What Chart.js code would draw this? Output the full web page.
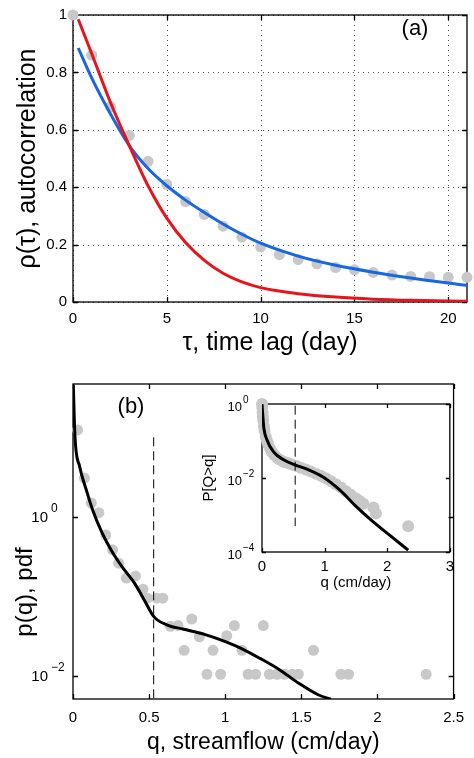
<!DOCTYPE html>
<html lang="en">
<head>
<meta charset="UTF-8">
<title>Autocorrelation and streamflow pdf</title>
<script src="https://cdn.jsdelivr.net/npm/chart.js"></script>
<style>
  html, body { margin: 0; padding: 0; background: #fff; }
  body { width: 474px; height: 758px; position: relative; overflow: hidden; }
  canvas { position: absolute; }
  #acfChart { left: 0; top: 0; }
  #pdfChart { left: 0; top: 360px; }
  #ccdfChart { left: 195px; top: 390px; }
</style>
</head>
<body>
<canvas id="acfChart" width="474" height="360"></canvas>
<canvas id="pdfChart" width="474" height="398"></canvas>
<canvas id="ccdfChart" width="265" height="205"></canvas>
<script>
// (a) autocorrelation
const lagDays = [0, 1, 2, 3, 4, 5, 6, 7, 8, 9, 10, 11, 12, 13, 14, 15, 16, 17, 18, 19, 20, 21];
const acfObserved = [1.00, 0.86, 0.68, 0.58, 0.49, 0.41, 0.35, 0.305, 0.264, 0.226, 0.192, 0.165, 0.148, 0.133, 0.12, 0.112, 0.103, 0.094, 0.089, 0.088, 0.086, 0.086];
const redTau = [0.28, 1, 2, 3, 4, 5, 6, 7, 8, 9, 10, 12, 14, 16, 18, 21];
const redRho = [0.985, 0.865, 0.695, 0.545, 0.405, 0.292, 0.207, 0.145, 0.1, 0.07, 0.05, 0.029, 0.017, 0.01, 0.006, 0.003];
const blueTau = [0.28, 1, 2, 3, 4, 5, 6, 7, 8, 9, 10, 12, 14, 16, 18, 21];
const blueRho = [0.885, 0.78, 0.655, 0.545, 0.465, 0.405, 0.355, 0.312, 0.272, 0.236, 0.205, 0.16, 0.128, 0.104, 0.084, 0.058];
const acfXTicks = [0, 5, 10, 15, 20];
const acfYTicks = [0, 0.2, 0.4, 0.6, 0.8, 1];

// (b) streamflow pdf
const pdfQ = [0.03, 0.075, 0.12, 0.17, 0.215, 0.26, 0.30, 0.35, 0.41, 0.46, 0.49, 0.55, 0.59, 0.64, 0.69, 0.73, 0.78, 0.83, 0.88, 0.92, 0.97, 1.01, 1.06, 1.11, 1.15, 1.20, 1.25, 1.29, 1.34, 1.39, 1.44, 1.48, 1.58, 1.76, 1.81, 2.32];
const pdfObserved = [12.4, 3.07, 1.49, 1.13, 0.59, 0.385, 0.262, 0.17, 0.18, 0.123, 0.095, 0.095, 0.095, 0.042, 0.043, 0.021, 0.052, 0.031, 0.0105, 0.021, 0.0105, 0.032, 0.043, 0.021, 0.0105, 0.0105, 0.043, 0.0105, 0.0105, 0.0105, 0.0105, 0.0105, 0.021, 0.0105, 0.0105, 0.0105];
const pdfFitQ = [0.002, 0.013, 0.044, 0.087, 0.129, 0.192, 0.256, 0.319, 0.404, 0.467, 0.531, 0.615, 0.721, 0.869, 0.975, 1.10, 1.229, 1.356, 1.483, 1.61, 1.694];
const pdfFitP = [46, 10.2, 4.27, 2.19, 1.22, 0.624, 0.366, 0.24, 0.147, 0.091, 0.0557, 0.0439, 0.0389, 0.0331, 0.0282, 0.0224, 0.0166, 0.012, 0.0081, 0.0058, 0.0051];
const thresholdQ = 0.53;
const pdfThresholdTop = 10;
const pdfYMin = 0.00513, pdfYMax = 46.8;
const pdfXTicks = [0, 0.5, 1, 1.5, 2, 2.5];
const pdfYExps = [-2, 0];

// (b) inset: exceedance probability
const ccdfQ = [0, 0.005, 0.01, 0.015, 0.02, 0.03, 0.04, 0.06, 0.08, 0.1, 0.13, 0.16, 0.2, 0.25, 0.3, 0.36, 0.42, 0.48, 0.55, 0.62, 0.7, 0.78, 0.86, 0.94, 1.02, 1.1, 1.18, 1.26, 1.34, 1.42, 1.5, 1.56, 1.62, 1.78, 1.82, 2.335];
const ccdfObserved = [1.0, 0.8, 0.6, 0.45, 0.36, 0.25, 0.19, 0.13, 0.1, 0.08, 0.062, 0.05, 0.041, 0.034, 0.03, 0.027, 0.025, 0.023, 0.021, 0.019, 0.017, 0.015, 0.013, 0.0115, 0.0098, 0.0082, 0.0068, 0.0055, 0.0044, 0.0035, 0.0028, 0.0024, 0.002, 0.0016, 0.0011, 0.0005];
const ccdfFitQ = [0, 0.027, 0.08, 0.185, 0.345, 0.53, 0.717, 0.98, 1.245, 1.51, 1.777, 2.043, 2.335];
const ccdfFitP = [1.0, 0.245, 0.107, 0.051, 0.031, 0.0224, 0.0174, 0.0105, 0.0047, 0.00166, 0.00065, 0.00028, 0.000112];
const ccdfThresholdTop = 0.9, ccdfThresholdBottom = 0.0005;
const ccdfXTicks = [0, 1, 2, 3];
const ccdfYExps = [-4, -2, 0];

Chart.defaults.font.family = '"Liberation Sans", Arial, Helvetica, sans-serif';
Chart.defaults.color = '#000';

const GREY = '#c8c8c8';
const FONT = Chart.defaults.font.family;
const pairs = (xs, ys) => xs.map((x, i) => ({ x: x, y: ys[i] }));
const fixTicks = vals => scale => { scale.ticks = vals.map(v => ({ value: v })); };

// matlab-like box with inward ticks (and optional dotted grid)
const frame = {
  id: 'frame',
  beforeDatasetsDraw(chart, args, opts) {
    const { ctx, chartArea: a, scales } = chart;
    const len = opts.tickLen || 5;
    const xs = scales.x.ticks.map(t => Math.round(scales.x.getPixelForValue(t.value)) + 0.5);
    const ys = scales.y.ticks.map(t => Math.round(scales.y.getPixelForValue(t.value)) + 0.5);
    ctx.save();
    if (opts.dotted) {
      ctx.strokeStyle = 'rgba(0,0,0,0.7)';
      ctx.lineWidth = 1;
      ctx.setLineDash([1, 4]);
      ctx.beginPath();
      xs.forEach(x => { ctx.moveTo(x, a.top); ctx.lineTo(x, a.bottom); });
      ys.forEach(y => { ctx.moveTo(a.left, y); ctx.lineTo(a.right, y); });
      ctx.stroke();
      ctx.setLineDash([]);
    }
    ctx.strokeStyle = '#000';
    ctx.lineWidth = 1.3;
    ctx.strokeRect(a.left, a.top, a.right - a.left, a.bottom - a.top);
    ctx.beginPath();
    xs.forEach(x => {
      ctx.moveTo(x, a.bottom); ctx.lineTo(x, a.bottom - len);
      ctx.moveTo(x, a.top); ctx.lineTo(x, a.top + len);
    });
    ys.forEach(y => {
      ctx.moveTo(a.left, y); ctx.lineTo(a.left + len, y);
      ctx.moveTo(a.right, y); ctx.lineTo(a.right - len, y);
    });
    ctx.stroke();
    ctx.restore();
  }
};

// 10^n labels for the log axes
const powerLabels = {
  id: 'powerLabels',
  afterDraw(chart, args, o) {
    if (!o.exps) return;
    const { ctx } = chart;
    const y = chart.scales.y;
    ctx.save();
    ctx.fillStyle = '#000';
    ctx.textBaseline = 'middle';
    o.exps.forEach(e => {
      const py = y.getPixelForValue(Math.pow(10, e));
      ctx.font = o.size + 'px ' + FONT;
      ctx.textAlign = 'right';
      ctx.fillText('10', o.x, py + o.dy);
      ctx.font = o.expSize + 'px ' + FONT;
      ctx.textAlign = 'left';
      ctx.fillText(e === 0 ? '0' : '\u2212' + Math.abs(e), o.x + o.gap, py + o.dy - o.raise);
    });
    ctx.restore();
  }
};

// free text: panel tags and the shifted y title of (b)
const notes = {
  id: 'notes',
  afterDraw(chart, args, o) {
    const ctx = chart.ctx;
    (o.items || []).forEach(n => {
      ctx.save();
      ctx.font = n.size + 'px ' + FONT;
      ctx.fillStyle = '#000';
      ctx.textAlign = 'center';
      ctx.textBaseline = 'middle';
      ctx.translate(n.x, n.y);
      if (n.rotate) ctx.rotate(-Math.PI / 2);
      ctx.fillText(n.text, 0, 0);
      ctx.restore();
    });
  }
};

const baseOptions = {
  responsive: false,
  devicePixelRatio: 1,
  animation: false,
  events: []
};

// (a)
new Chart(document.getElementById('acfChart'), {
  type: 'scatter',
  data: {
    datasets: [
      { data: pairs(redTau, redRho), showLine: true, borderColor: '#e8141c', borderWidth: 3, pointRadius: 0, cubicInterpolationMode: 'monotone' },
      { data: pairs(blueTau, blueRho), showLine: true, borderColor: '#1766e2', borderWidth: 3, pointRadius: 0, cubicInterpolationMode: 'monotone' },
      { data: pairs(lagDays, acfObserved), pointRadius: 5.5, backgroundColor: GREY, borderWidth: 0, clip: false }
    ]
  },
  options: Object.assign({}, baseOptions, {
    layout: { padding: { left: 0, right: 7, top: 10, bottom: 0 } },
    plugins: {
      legend: { display: false },
      tooltip: { enabled: false },
      frame: { tickLen: 5, dotted: true },
      notes: { items: [{ text: '(a)', x: 415, y: 29, size: 22 }] }
    },
    scales: {
      x: {
        type: 'linear', min: 0, max: 21,
        afterBuildTicks: fixTicks(acfXTicks),
        afterFit: s => { s.height = 58; },
        grid: { display: false, drawTicks: false },
        border: { display: false },
        ticks: { padding: 8, font: { size: 15 }, callback: v => String(v) },
        title: { display: true, text: 'τ, time lag (day)', font: { size: 25 }, padding: { top: 0, bottom: 2 } }
      },
      y: {
        type: 'linear', min: 0, max: 1,
        afterBuildTicks: fixTicks(acfYTicks),
        afterFit: s => { s.width = 73; },
        grid: { display: false, drawTicks: false },
        border: { display: false },
        ticks: { padding: 6, font: { size: 15 }, callback: v => String(v) },
        title: { display: true, text: 'ρ(τ), autocorrelation', font: { size: 25 }, padding: { top: 13, bottom: 0 } }
      }
    }
  }),
  plugins: [frame, notes]
});

// (b)
new Chart(document.getElementById('pdfChart'), {
  type: 'scatter',
  data: {
    datasets: [
      { data: pairs(pdfFitQ, pdfFitP), showLine: true, borderColor: '#000', borderWidth: 3, pointRadius: 0, cubicInterpolationMode: 'monotone' },
      { data: [{ x: thresholdQ, y: pdfThresholdTop }, { x: thresholdQ, y: pdfYMin }], showLine: true, borderColor: '#000', borderWidth: 1, borderDash: [9, 5], pointRadius: 0 },
      { data: pairs(pdfQ, pdfObserved), pointRadius: 5.5, backgroundColor: GREY, borderWidth: 0, clip: false }
    ]
  },
  options: Object.assign({}, baseOptions, {
    layout: { padding: { left: 0, right: 7, top: 24, bottom: 0 } },
    plugins: {
      legend: { display: false },
      tooltip: { enabled: false },
      frame: { tickLen: 5 },
      powerLabels: { exps: pdfYExps, x: 48, dy: 1, size: 15, expSize: 12, gap: 3, raise: 9 },
      notes: { items: [
        { text: '(b)', x: 131, y: 47, size: 22 },
        { text: 'p(q), pdf', x: 25, y: 232, size: 24, rotate: true }
      ] }
    },
    scales: {
      x: {
        type: 'linear', min: 0, max: 2.5,
        afterBuildTicks: fixTicks(pdfXTicks),
        afterFit: s => { s.height = 59; },
        grid: { display: false, drawTicks: false },
        border: { display: false },
        ticks: { padding: 10, font: { size: 15 }, callback: v => String(v) },
        title: { display: true, text: 'q, streamflow (cm/day)', font: { size: 23 }, padding: { top: 0, bottom: 2 } }
      },
      y: {
        type: 'logarithmic', min: pdfYMin, max: pdfYMax,
        afterBuildTicks: fixTicks(pdfYExps.map(e => Math.pow(10, e))),
        afterFit: s => { s.width = 73; },
        grid: { display: false, drawTicks: false },
        border: { display: false },
        ticks: { display: false }
      }
    }
  }),
  plugins: [frame, powerLabels, notes]
});

// (b) inset
new Chart(document.getElementById('ccdfChart'), {
  type: 'scatter',
  data: {
    datasets: [
      { data: pairs(ccdfFitQ, ccdfFitP), showLine: true, borderColor: '#000', borderWidth: 3, pointRadius: 0, cubicInterpolationMode: 'monotone' },
      { data: [{ x: thresholdQ, y: ccdfThresholdTop }, { x: thresholdQ, y: ccdfThresholdBottom }], showLine: true, borderColor: '#000', borderWidth: 1, borderDash: [9, 5], pointRadius: 0 },
      { data: pairs(ccdfQ, ccdfObserved), pointRadius: 6, backgroundColor: GREY, borderWidth: 0, clip: false }
    ]
  },
  options: Object.assign({}, baseOptions, {
    layout: { padding: { left: 0, right: 10, top: 14, bottom: 0 } },
    plugins: {
      legend: { display: false },
      tooltip: { enabled: false },
      frame: { tickLen: 4 },
      powerLabels: { exps: ccdfYExps, x: 47, dy: 3, size: 13, expSize: 10, gap: 1, raise: 7 }
    },
    scales: {
      x: {
        type: 'linear', min: 0, max: 3,
        afterBuildTicks: fixTicks(ccdfXTicks),
        afterFit: s => { s.height = 43; },
        grid: { display: false, drawTicks: false },
        border: { display: false },
        ticks: { padding: 6, font: { size: 15 }, callback: v => String(v) },
        title: { display: true, text: 'q (cm/day)', font: { size: 15 }, padding: { top: 0, bottom: 3 } }
      },
      y: {
        type: 'logarithmic', min: 0.0001, max: 1,
        afterBuildTicks: fixTicks(ccdfYExps.map(e => Math.pow(10, e))),
        afterFit: s => { s.width = 67; },
        grid: { display: false, drawTicks: false },
        border: { display: false },
        ticks: { display: false },
        title: { display: true, text: 'P[Q>q]', font: { size: 15 }, padding: { top: 5, bottom: 0 } }
      }
    }
  }),
  plugins: [frame, powerLabels]
});
</script>
</body>
</html>
